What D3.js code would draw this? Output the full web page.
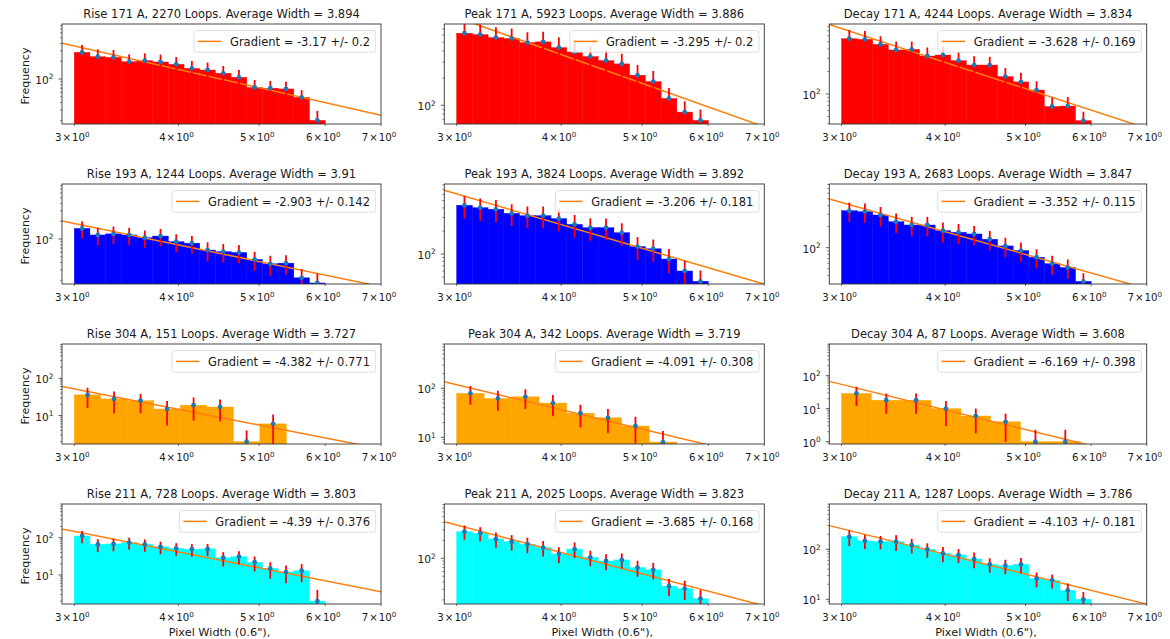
<!DOCTYPE html>
<html>
<head>
<meta charset="utf-8">
<script src="https://cdn.jsdelivr.net/npm/d3@7"></script>
<style>
  body { margin: 0; background: #fff; }
  svg { display: block; font-family: 'DejaVu Sans', sans-serif; }
</style>
</head>
<body>
<svg id="chart" width="1170" height="639"></svg>
<script>
// Settings / data
var phases = ['Rise', 'Peak', 'Decay']
var channels = ['171', '193', '304', '211']
var barColours = ['#ff0000', '#0000ff', '#ffa500', '#00ffff']
var loops = [[2270, 5923, 4244], [1244, 3824, 2683], [151, 342, 87], [728, 2025, 1287]]
var avgWidths = [['3.894', '3.886', '3.834'], ['3.91', '3.892', '3.847'], ['3.727', '3.719', '3.608'], ['3.803', '3.823', '3.786']]
var gradients = [[-3.17, -3.295, -3.628], [-2.903, -3.206, -3.352], [-4.382, -4.091, -6.169], [-4.39, -3.685, -4.103]]
var gradErrs = [[0.2, 0.2, 0.169], [0.142, 0.181, 0.115], [0.771, 0.308, 0.398], [0.376, 0.168, 0.181]]
// value of the fitted power law at width = 3
var fitAt3 = [[360, 940, 752], [183, 611, 444], [52.4, 119, 54.5], [147, 361, 259]]
var yLims = [
  [[17.4, 849], [62, 794], [39.7, 863]],
  [[17.3, 853], [40.6, 822], [30.3, 813]],
  [[1.73, 832], [7.3, 802], [0.85, 912]],
  [[1.67, 800], [17.1, 815], [8.05, 806]]
]
var binLo = 3
var binHi = [[6, 6, 6], [6, 6, 6], [5.39, 5.5, 5.82], [6, 6, 6]]
var xDomain = [2.9, 7]
var xTicks = [3, 4, 5, 6, 7]

// histogram counts and error bars
var rise171 = [282, 238, 232, 196, 204, 194, 177, 151, 142, 125, 107, 72, 70, 68, 49, 20]
var rise171Err = [93, 79, 77, 65, 67, 64, 58, 50, 47, 41, 35, 24, 23, 22, 16, 9]
var peak171 = [627, 606, 561, 547, 494, 503, 435, 389, 346, 312, 287, 215, 183, 119, 84, 68]
var peak171Err = [190, 180, 170, 160, 150, 150, 130, 120, 105, 95, 85, 65, 57, 36, 27, 22]
var decay171 = [549, 538, 461, 388, 395, 322, 332, 279, 244, 244, 171, 145, 113, 68, 69, 44]
var decay171Err = [170, 160, 130, 115, 110, 95, 95, 85, 75, 70, 52, 48, 35, 22, 22, 14]

var rise193 = [151, 117, 122, 117, 105, 112, 90, 85, 65, 61, 59, 45, 38, 39, 22, 18]
var rise193Err = [48, 38, 40, 38, 34, 36, 30, 28, 23, 21, 20, 16, 14, 14, 9, 8]
var peak193 = [433, 403, 384, 340, 317, 317, 290, 244, 221, 221, 190, 125, 117, 86, 60, 44]
var peak193Err = [140, 130, 123, 108, 100, 100, 92, 80, 72, 70, 62, 42, 38, 30, 22, 17]
var decay193 = [338, 327, 293, 235, 211, 211, 175, 166, 157, 132, 106, 91, 73, 59, 52, 33]
var decay193Err = [105, 100, 90, 73, 66, 66, 55, 52, 48, 41, 33, 28, 22, 18, 16, 10]

var rise304 = [36, 28, 25, 15, 19, 17, 2, 6]
var rise304Err = [20, 16.6, 13.3, 9.6, 11.7, 9.9, 2, 4.7]
var peak304 = [79, 62, 67, 50, 31, 25, 17, 8]
var peak304Err = [33, 27, 29, 23, 15, 12.7, 9.4, 5.5]
var decay304 = [29, 18, 18, 10, 6, 4, 1, 1]
var decay304Err = [17, 11, 11, 7, 4.2, 3, 1.3, 1.3]

var rise211 = [111, 66, 68, 74, 66, 57, 52, 49, 50, 29, 31, 22, 15, 12, 13, 2]
var rise211Err = [40, 25, 25, 26, 24, 21, 19, 18, 18, 12, 12, 9.5, 7, 6, 6.5, 2]
var peak211 = [280, 263, 211, 190, 172, 151, 118, 143, 104, 90, 94, 70, 64, 34, 31, 21]
var peak211Err = [75, 70, 60, 55, 50, 44, 35, 42, 30, 27, 27, 21, 20, 11, 11, 8.5]
var decay211 = [179, 147, 142, 142, 122, 100, 83, 77, 64, 50, 47, 50, 26, 24, 15, 10]
var decay211Err = [62, 46, 42, 49, 40, 32, 28, 24, 22, 16, 15, 17, 8.5, 7.5, 5.8, 4]

var counts = [
  [rise171, peak171, decay171],
  [rise193, peak193, decay193],
  [rise304, peak304, decay304],
  [rise211, peak211, decay211]
]
var errs = [
  [rise171Err, peak171Err, decay171Err],
  [rise193Err, peak193Err, decay193Err],
  [rise304Err, peak304Err, decay304Err],
  [rise211Err, peak211Err, decay211Err]
]

// layout
var colLeft = [62, 444.3, 829.3]
var colRight = [381, 764.3, 1146.7]
var rowTop = 24, rowStep = 160, axH = 100
var textCol = '#1a1a1a'

var svg = d3.select('#chart')
var defs = svg.append('defs')

channels.forEach(function (ch, r) {
  phases.forEach(function (ph, c) {
    drawPanel(r, c)
  })
})

function supText(sel, base, exp, size) {
  sel.append('tspan').text(base)
  sel.append('tspan').attr('dy', -size * 0.43).attr('font-size', size * 0.7).text(exp)
}

function drawPanel(r, c) {
  var left = colLeft[c], right = colRight[c]
  var top = rowTop + rowStep * r, bottom = top + axH
  var x = d3.scaleLog().domain(xDomain).range([left, right])
  var y = d3.scaleLog().domain(yLims[r][c]).range([bottom, top])
  var data = counts[r][c], err = errs[r][c]
  var n = data.length
  var hi = binHi[r][c]
  var edges = d3.range(n + 1).map(function (i) { return binLo * Math.pow(hi / binLo, i / n) })

  var id = 'clip-' + r + '-' + c
  defs.append('clipPath').attr('id', id)
    .append('rect').attr('x', left).attr('y', top).attr('width', right - left).attr('height', bottom - top)

  var g = svg.append('g')
  var plot = g.append('g').attr('clip-path', 'url(#' + id + ')')

  // histogram
  plot.selectAll('rect.bar').data(data).enter().append('rect')
    .attr('class', 'bar')
    .attr('x', function (d, i) { return x(edges[i]) })
    .attr('width', function (d, i) { return x(edges[i + 1]) - x(edges[i]) })
    .attr('y', function (d) { return y(d) })
    .attr('height', function (d) { return bottom + 2 - y(d) })
    .attr('fill', barColours[r])
    .attr('stroke', barColours[r])
    .attr('stroke-width', 0.4)

  // fit line
  var grad = gradients[r][c]
  var fit = function (v) { return fitAt3[r][c] * Math.pow(v / 3, grad) }
  plot.append('line')
    .attr('x1', x(xDomain[0])).attr('y1', y(fit(xDomain[0])))
    .attr('x2', x(xDomain[1])).attr('y2', y(fit(xDomain[1])))
    .attr('stroke', '#ff7f0e').attr('stroke-width', 1.5)

  // error bars + points at bin centres
  var centre = function (i) { return Math.sqrt(edges[i] * edges[i + 1]) }
  plot.selectAll('line.err').data(data).enter().append('line')
    .attr('class', 'err')
    .attr('x1', function (d, i) { return x(centre(i)) })
    .attr('x2', function (d, i) { return x(centre(i)) })
    .attr('y1', function (d, i) { return d - err[i] > 0 ? y(d - err[i]) : bottom + 5 })
    .attr('y2', function (d, i) { return y(d + err[i]) })
    .attr('stroke', '#ff0000').attr('stroke-width', 1.8)
  plot.selectAll('circle').data(data).enter().append('circle')
    .attr('cx', function (d, i) { return x(centre(i)) })
    .attr('cy', function (d) { return y(d) })
    .attr('r', 2.4)
    .attr('fill', '#1f77b4')

  // frame
  g.append('rect')
    .attr('x', left).attr('y', top).attr('width', right - left).attr('height', bottom - top)
    .attr('fill', 'none').attr('stroke', '#333').attr('stroke-width', 0.9)

  // x ticks
  xTicks.forEach(function (t) {
    g.append('line').attr('x1', x(t)).attr('x2', x(t)).attr('y1', bottom).attr('y2', bottom + 2)
      .attr('stroke', '#333').attr('stroke-width', 0.7)
    var lab = g.append('text').attr('x', x(t) - 2).attr('y', bottom + 17)
      .attr('text-anchor', 'middle').attr('font-size', 10.2).attr('fill', textCol)
    supText(lab, t + '\u200a\u00d7\u200a10', '0', 10.2)
  })

  // y ticks (log decades + minor)
  var dom = y.domain()
  var k0 = Math.floor(Math.log10(dom[0])), k1 = Math.ceil(Math.log10(dom[1]))
  for (var k = k0; k <= k1; k++) {
    for (var m = 1; m <= 9; m++) {
      var v = m * Math.pow(10, k)
      if (v < dom[0] || v > dom[1]) continue
      g.append('line').attr('x1', left).attr('x2', left - (m === 1 ? 3.5 : 2))
        .attr('y1', y(v)).attr('y2', y(v))
        .attr('stroke', '#333').attr('stroke-width', m === 1 ? 0.8 : 0.6)
      if (m === 1) {
        var yl = g.append('text').attr('x', left - 8.5).attr('y', y(v) + 5)
          .attr('text-anchor', 'end').attr('font-size', 10.6).attr('fill', textCol)
        supText(yl, '10', String(k), 10.6)
      }
    }
  }

  // title
  g.append('text').attr('x', (left + right) / 2).attr('y', top - 6)
    .attr('text-anchor', 'middle').attr('font-size', 11.5).attr('fill', textCol)
    .text(phases[c] + ' ' + channels[r] + ' A, ' + loops[r][c] + ' Loops. Average Width = ' + avgWidths[r][c])

  // axis labels
  if (c === 0) {
    g.append('text')
      .attr('transform', 'translate(' + (left - 33.5) + ',' + (top + axH / 2 + 2) + ') rotate(-90)')
      .attr('text-anchor', 'middle').attr('font-size', 11).attr('fill', textCol)
      .text('Frequency')
  }
  if (r === channels.length - 1) {
    g.append('text').attr('x', (left + right) / 2 - 2).attr('y', bottom + 31.5)
      .attr('text-anchor', 'middle').attr('font-size', 11.3).attr('fill', textCol)
      .text('Pixel Width (0.6"),')
  }

  // legend
  var leg = g.append('g')
  var box = leg.append('rect')
  var label = leg.append('text').attr('font-size', 11.5).attr('fill', textCol)
    .text('Gradient = ' + grad + ' +/- ' + gradErrs[r][c])
  var tw = label.node().getComputedTextLength()
  var bw = tw + 41.7, bh = 21.6
  var bx = right - 5.3 - bw, by = top + 6.6
  box.attr('x', bx).attr('y', by).attr('width', bw).attr('height', bh)
    .attr('rx', 2.5).attr('fill', 'rgba(255,255,255,0.8)').attr('stroke', '#d6d6d6').attr('stroke-width', 0.8)
  leg.append('line').attr('x1', bx + 4).attr('x2', bx + 27.3)
    .attr('y1', by + bh / 2).attr('y2', by + bh / 2)
    .attr('stroke', '#ff7f0e').attr('stroke-width', 1.5)
  label.attr('x', bx + 36).attr('y', by + bh / 2 + 4.1)
}
</script>
</body>
</html>
